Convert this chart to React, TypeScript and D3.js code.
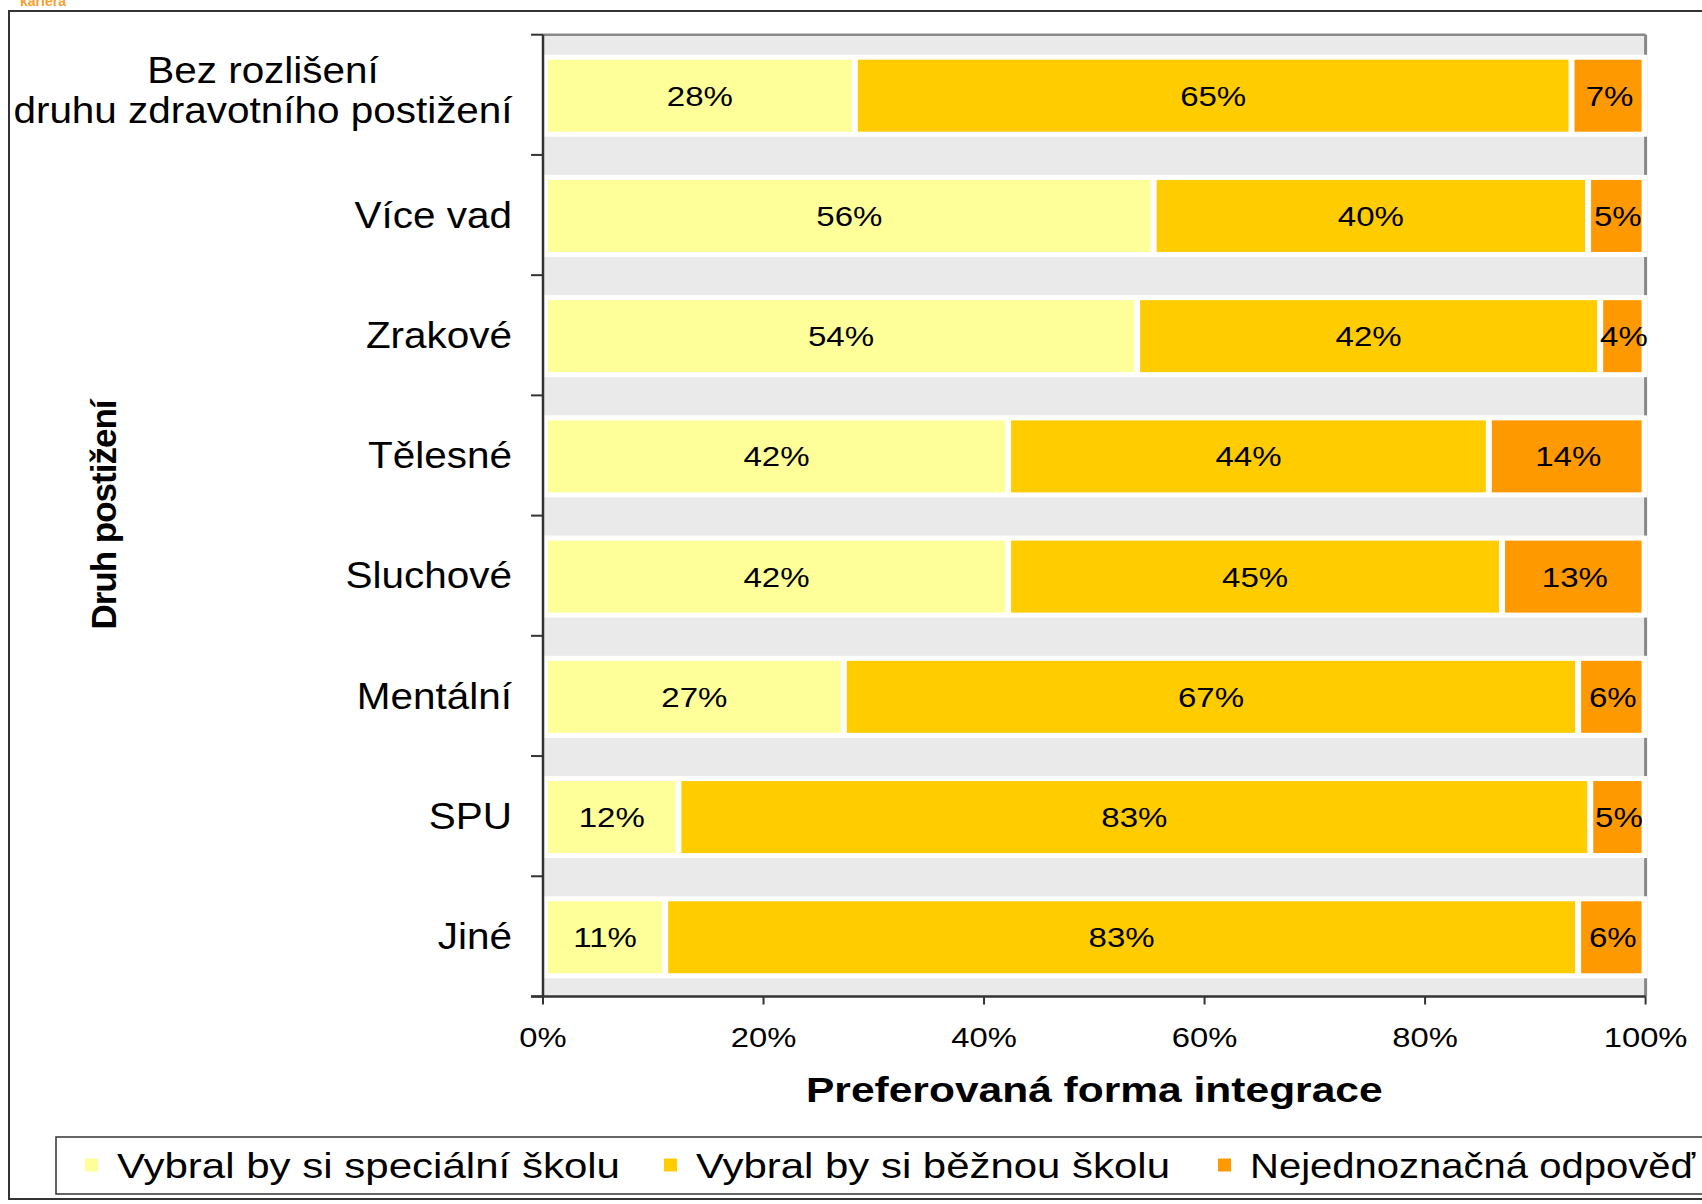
import React from "react";
import * as d3 from "d3";

const categoryLines: string[][] = [
  ["Bez rozlišení", "druhu zdravotního postižení"],
  ["Více vad"],
  ["Zrakové"],
  ["Tělesné"],
  ["Sluchové"],
  ["Mentální"],
  ["SPU"],
  ["Jiné"],
];
const categories = categoryLines.map((l) => l.join(" "));

const seriesNames = [
  "Vybral by si speciální školu",
  "Vybral by si běžnou školu",
  "Nejednoznačná odpověď",
];
const special = [28.1, 55.2, 53.7, 42.0, 42.0, 27.1, 12.1, 10.9];
const regular = [65.0, 39.4, 42.0, 43.6, 44.8, 66.6, 82.7, 82.8];
const unclear = [6.9, 5.4, 4.3, 14.4, 13.2, 6.3, 5.2, 6.3];
const specialLabels = ["28%", "56%", "54%", "42%", "42%", "27%", "12%", "11%"];
const regularLabels = ["65%", "40%", "42%", "44%", "45%", "67%", "83%", "83%"];
const unclearLabels = ["7%", "5%", "4%", "14%", "13%", "6%", "5%", "6%"];
const xTicks = [0, 20, 40, 60, 80, 100];

const colors = ["#FFFF99", "#FFCC00", "#FF9900"];
const FONT = "'Liberation Sans', Arial, sans-serif";

function SText(props: {
  x: number;
  y: number;
  sx: number;
  size: number;
  anchor?: string;
  bold?: boolean;
  baseline?: string;
  children: React.ReactNode;
}) {
  const { x, y, sx, size, anchor, bold, baseline, children } = props;
  return (
    <text
      transform={`translate(${x},${y}) scale(${sx},1)`}
      fontSize={size}
      textAnchor={anchor || "start"}
      fontWeight={bold ? "bold" : "normal"}
      dominantBaseline={baseline || "auto"}
      fill="#000"
    >
      {children}
    </text>
  );
}

export default function App() {
  const W = 1702;
  const H = 1204;
  const left = 543;
  const right = 1645.6;
  const top = 34.7;
  const bottom = 996.5;

  const x = d3.scaleLinear().domain([0, 100]).range([left, right]);
  const y = d3.scaleBand<string>().domain(categories).range([top, bottom]);
  const bw = y.bandwidth();

  const rows = categories.map((c, i) => ({
    cat: c,
    s0: special[i],
    s1: regular[i],
    s2: unclear[i],
  }));
  const keys = ["s0", "s1", "s2"];
  const stacked = d3.stack<any>().keys(keys)(rows);
  const labelSets = [specialLabels, regularLabels, unclearLabels];

  return (
    <svg
      width={W}
      height={H}
      style={{ position: "absolute", left: 0, top: 0, display: "block" }}
      fontFamily={FONT}
    >
      <rect x={0} y={0} width={W} height={H} fill="#fff" />
      <text x={20} y={6} fontSize={14} fontWeight="bold" fill="#F7A030">
        kariera
      </text>
      {/* outer border */}
      <rect x={9} y={11} width={W + 20} height={1188} fill="none" stroke="#333" strokeWidth={2} />

      {/* plot background */}
      <rect x={left} y={top} width={right - left} height={bottom - top} fill="#EAEAEA" />
      <line x1={left} x2={right} y1={top} y2={top} stroke="#888" strokeWidth={2.5} />
      <line x1={right} x2={right} y1={top} y2={bottom} stroke="#888" strokeWidth={3} />

      {/* white strips behind bars */}
      {categories.map((c) => (
        <rect key={c} x={left} y={(y(c) as number) + 20} width={right - left + 1.5} height={82} fill="#fff" />
      ))}

      {/* bars */}
      {stacked.map((layer, si) =>
        layer.map((d, i) => {
          const c = categories[i];
          const x0 = x(d[0]) + 5;
          const x1 = x(d[1]) - (si === 2 ? 4 : 1);
          const yt = (y(c) as number) + 25;
          return <rect key={si + "-" + i} x={x0} y={yt} width={Math.max(0, x1 - x0)} height={72} fill={colors[si]} />;
        })
      )}

      {/* value labels */}
      {stacked.map((layer, si) =>
        layer.map((d, i) => {
          const c = categories[i];
          const cx = (x(d[0]) + x(d[1])) / 2 + 2;
          const cy = (y(c) as number) + 61;
          return (
            <SText key={"l" + si + "-" + i} x={cx} y={cy} sx={1.18} size={28} anchor="middle" baseline="central">
              {labelSets[si][i]}
            </SText>
          );
        })
      )}

      {/* left axis */}
      <line x1={left} x2={left} y1={top} y2={bottom + 1} stroke="#333" strokeWidth={2.5} />
      {[...categories.map((c) => y(c) as number), bottom].map((v, i) => (
        <line key={"yt" + i} x1={left - 12} x2={left} y1={v} y2={v} stroke="#333" strokeWidth={2} />
      ))}
      {/* bottom axis */}
      <line x1={left - 12} x2={right} y1={bottom} y2={bottom} stroke="#333" strokeWidth={2.5} />
      {xTicks.map((t) => (
        <g key={"xt" + t}>
          <line x1={x(t)} x2={x(t)} y1={bottom} y2={bottom + 8} stroke="#333" strokeWidth={2} />
          <SText x={x(t)} y={1047} sx={1.17} size={28} anchor="middle">
            {t + "%"}
          </SText>
        </g>
      ))}

      {/* category labels */}
      {categoryLines.map((lines, i) => {
        const c = categories[i];
        const cy = (y(c) as number) + bw / 2;
        if (lines.length === 1) {
          return (
            <SText key={"c" + i} x={512} y={cy} sx={1.124} size={36} anchor="end" baseline="central">
              {lines[0]}
            </SText>
          );
        }
        return (
          <g key={"c" + i}>
            {lines.map((ln, j) => (
              <SText key={j} x={263} y={cy + (j - (lines.length - 1) / 2) * 40 - 5} sx={1.124} size={36} anchor="middle" baseline="central">
                {ln}
              </SText>
            ))}
          </g>
        );
      })}

      {/* axis titles */}
      <text
        transform="translate(103,515) rotate(-90)"
        fontSize={35}
        fontWeight="bold"
        textAnchor="middle"
        dominantBaseline="central"
        letterSpacing={-1}
        fill="#000"
      >
        Druh postižení
      </text>
      <SText x={(left + right) / 2} y={1102} sx={1.215} size={35} anchor="middle" bold>
        Preferovaná forma integrace
      </SText>

      {/* legend */}
      <rect x={56} y={1137} width={W} height={57} fill="#fff" stroke="#333" strokeWidth={1.5} />
      {seriesNames.map((n, i) => {
        const mx = [85, 664, 1218][i];
        const len = [503, 474, 445][i];
        return (
          <g key={"lg" + i}>
            <rect x={mx} y={1158.5} width={13} height={13} fill={colors[i]} />
            <text
              x={mx + 32}
              y={1165}
              fontSize={35}
              dominantBaseline="central"
              textLength={len}
              lengthAdjust="spacingAndGlyphs"
              fill="#000"
            >
              {n}
            </text>
          </g>
        );
      })}
    </svg>
  );
}
